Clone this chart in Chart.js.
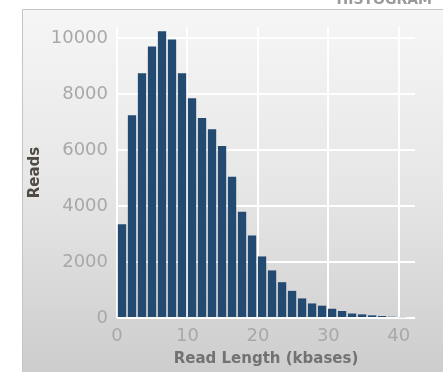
<!DOCTYPE html>
<html>
<head>
<meta charset="utf-8">
<script src="https://cdn.jsdelivr.net/npm/chart.js@4.4.1/dist/chart.umd.min.js"></script>
<style>
  html, body { margin: 0; padding: 0; background: #fff; }
  canvas { display: block; }
</style>
</head>
<body>
<canvas id="chart" width="443" height="374"></canvas>
<script>
// read length histogram (bin starts in kbases, read counts per bin)
const binWidthKb = 1.42;
const binStartsKb = [0, 1.42, 2.84, 4.26, 5.68, 7.10, 8.52, 9.94, 11.36, 12.78,
  14.20, 15.62, 17.04, 18.46, 19.88, 21.30, 22.72, 24.14, 25.56, 26.98,
  28.40, 29.82, 31.24, 32.66, 34.08, 35.50, 36.92, 38.34, 39.76];
const readCounts = [3350, 7250, 8750, 9700, 10250, 9950, 8750, 7850, 7150, 6750,
  6150, 5050, 3800, 2950, 2200, 1700, 1280, 970, 700, 520,
  440, 330, 250, 160, 130, 95, 70, 45, 30];
const xTicks = [0, 10, 20, 30, 40];
const yTicks = [0, 2000, 4000, 6000, 8000, 10000];

const FONT = "'DejaVu Sans', Verdana, sans-serif";

// gray panel behind the plot, plus the clipped heading at the top right
const panelBg = {
  id: "panelBg",
  beforeDraw(chart) {
    const ctx = chart.ctx;
    ctx.save();
    const g = ctx.createLinearGradient(0, 9, 0, 372);
    g.addColorStop(0, "#f6f6f6");
    g.addColorStop(0.5, "#e6e6e6");
    g.addColorStop(1, "#cdcdcd");
    ctx.fillStyle = g;
    ctx.fillRect(22, 9, 421, 363);
    ctx.strokeStyle = "#c4c4c4";
    ctx.lineWidth = 1;
    ctx.beginPath();
    ctx.moveTo(22.5, 372);
    ctx.lineTo(22.5, 9.5);
    ctx.lineTo(443, 9.5);
    ctx.stroke();
    ctx.fillStyle = "#9a9a9a";
    ctx.font = "bold 14px " + FONT;
    ctx.textAlign = "right";
    ctx.textBaseline = "alphabetic";
    ctx.fillText("HISTOGRAM", 432, 4);
    ctx.restore();
  }
};

new Chart(document.getElementById("chart"), {
  type: "bar",
  data: {
    datasets: [{
      data: binStartsKb.map((s, i) => ({ x: s + binWidthKb / 2, y: readCounts[i] })),
      backgroundColor: "#234a70",
      borderWidth: 0,
      barPercentage: 1,
      categoryPercentage: 0.83
    }]
  },
  options: {
    responsive: false,
    animation: false,
    devicePixelRatio: 1,
    layout: { padding: { left: 22, top: 27, right: 28, bottom: 0 } },
    plugins: { legend: { display: false }, tooltip: { enabled: false } },
    scales: {
      x: {
        type: "linear",
        offset: false,
        min: 0,
        max: 42.3,
        afterBuildTicks: s => { s.ticks = xTicks.map(v => ({ value: v })); },
        afterFit: s => { s.height = 56; },
        grid: { color: "#ffffff", lineWidth: 2, drawTicks: false, offset: false },
        border: { display: false },
        ticks: {
          padding: 8, color: "#a8a8a8", font: { family: FONT, size: 18 }, maxRotation: 0,
          callback: v => String(v)
        },
        title: {
          display: true,
          text: "Read Length (kbases)",
          color: "#727272",
          font: { family: FONT, size: 15, weight: "bold" },
          padding: { top: 0, bottom: 6 }
        }
      },
      y: {
        min: 0,
        max: 10400,
        afterBuildTicks: s => { s.ticks = yTicks.map(v => ({ value: v })); },
        afterFit: s => { s.width = 95; },
        grid: { color: "#ffffff", lineWidth: 2, drawTicks: false },
        border: { display: false },
        ticks: {
          padding: 9, color: "#a8a8a8", font: { family: FONT, size: 18 },
          callback: v => String(v)
        },
        title: {
          display: true,
          text: "Reads",
          color: "#4f4a42",
          font: { family: FONT, size: 15, weight: "bold" },
          padding: { top: 4, bottom: 0 }
        }
      }
    }
  },
  plugins: [panelBg]
});
</script>
</body>
</html>
